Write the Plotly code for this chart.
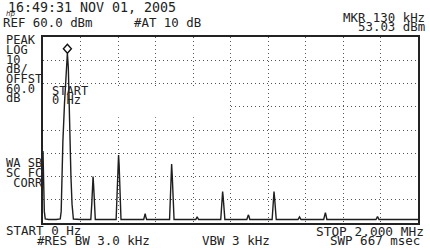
import plotly.graph_objects as go

start_khz = 0
stop_khz = 2000
ref_level_dbm = 60.0
db_per_div = 10
n_hdiv = 10
n_vdiv = 8

marker_freq_khz = 130
marker_level_dbm = 53.03

trace_freq_khz = [0, 4, 7, 12, 30, 70, 92, 97, 101, 106, 115, 123, 130, 135, 139, 143, 149, 155, 162,
                  200, 255, 260, 264, 267, 270, 274, 279,
                  390, 395, 400, 403, 406, 410, 416,
                  537, 542, 545, 548, 553,
                  675, 680, 684, 686, 689, 693, 699,
                  815, 820, 822, 825, 830,
                  948, 953, 956, 958, 961, 965, 970,
                  1087, 1092, 1095, 1098, 1103,
                  1222, 1227, 1230, 1232, 1235, 1239, 1244,
                  1360, 1365, 1368, 1371, 1376,
                  1497, 1502, 1506, 1509, 1514,
                  1776, 1781, 1784, 1787, 1792, 2000]
trace_level_dbm = [11, -6, -15, -18.2, -18.5, -18.5, -18.2, -15, 0, 15, 32, 47, 53.03, 47, 32, 15, 0, -12, -18.3,
                   -18.5, -18.5, -12, -3, 0, -4, -14, -18.5,
                   -18.5, -10, 4, 9.2, 5, -8, -18.5,
                   -18.5, -17, -16, -17.2, -18.5,
                   -18.5, -8, 2, 5.4, 1, -10, -18.5,
                   -18.5, -17.6, -17.3, -17.8, -18.5,
                   -18.5, -12, -8, -6.5, -9, -15, -18.5,
                   -18.5, -17, -16.5, -17, -18.5,
                   -18.5, -12, -8, -6.5, -9, -15, -18.5,
                   -18.5, -17.7, -17.4, -17.8, -18.5,
                   -18.5, -16.5, -15.5, -16.5, -18.5,
                   -18.5, -17.6, -17.2, -17.7, -18.5, -18.5]

header_date = "16:49:31 NOV 01, 2005"
side_labels_top = ["PEAK", "LOG", "10", "dB/", "OFFST", "60.0", "dB"]
side_labels_top_y = [39.5, 50, 59.5, 68.5, 78.5, 88.5, 98]
side_labels_bottom = ["WA SB", "SC FC", "\u00a0CORR"]
side_labels_bottom_y = [163, 173, 183]

# ---- layout geometry (pixels) ----
W, H = 430, 250
ML, MR, MT, MB = 43, 10, 37, 27
PW, PH = W - ML - MR, H - MT - MB

def px(x):
    return (x - ML) / PW

def py(y):
    return (MT + PH - y) / PH

FONT = "DejaVu Sans Mono"
TXT = "#222222"
FS = 12

fig = go.Figure()
fig.add_trace(go.Scatter(x=trace_freq_khz, y=trace_level_dbm, mode="lines",
                         line=dict(color="#1e1e1e", width=1.4), hoverinfo="skip"))

bottom = ref_level_dbm - n_vdiv * db_per_div
span = stop_khz - start_khz

# marker diamond
fig.add_shape(type="path", xref="x", yref="y", xsizemode="pixel", ysizemode="pixel",
              xanchor=marker_freq_khz, yanchor=marker_level_dbm,
              path="M0,0 L4,4.5 L0,9 L-4,4.5 Z", line=dict(color="#111", width=1.4),
              fillcolor="white", layer="above")

# blanked grid area behind the START annotation
fig.add_shape(type="rect", xref="x", yref="y", x0=start_khz, x1=start_khz + span * 0.495,
              y0=25.5, y1=38.5, line_width=0, fillcolor="white", layer="between")

ann = []
def t(text, x, y, anchor="left", size=FS):
    ann.append(dict(text=text, x=px(x), y=py(y), xref="paper", yref="paper",
                    xanchor=anchor, yanchor="middle", showarrow=False,
                    font=dict(family=FONT, size=size, color=TXT)))

t(header_date, 6, 7.5, size=13.3)
t("REF 60.0 dBm", 1, 22.5, size=12.4)
t("#AT 10 dB", 132, 22.5, size=12.4)
t("MKR 130 kHz", 429, 17.5, "right", size=12.4)
t("53.03 dBm", 429, 26.5, "right", size=12.4)
for s, yy in zip(side_labels_top, side_labels_top_y):
    t(s, 4, yy)
for s, yy in zip(side_labels_bottom, side_labels_bottom_y):
    t(s, 4, yy)
t("START", 50, 90.5)
t("0 Hz", 50, 100)
t("START 0 Hz", 4, 230.5, size=12.5)
t("#RES BW 3.0 kHz", 35, 240.5, size=12.5)
t("VBW 3 kHz", 201, 240.5, size=12.5)
t("STOP 2.000 MHz", 428, 231, "right", size=12.8)
t("SWP 667 msec", 424, 241, "right", size=12.5)
ann.append(dict(text="<i>hp</i>", x=px(4), y=py(14), xref="paper", yref="paper",
                xanchor="left", yanchor="middle", showarrow=False,
                font=dict(family="DejaVu Sans", size=7, color="#333")))

axis_common = dict(showticklabels=False, ticks="", zeroline=False,
                   showline=True, mirror=True, linecolor="#222", linewidth=1.5,
                   showgrid=True, gridcolor="#555", gridwidth=1, griddash="1px,3px",
                   fixedrange=True)

fig.update_layout(
    width=W, height=H, margin=dict(l=ML, r=MR, t=MT, b=MB),
    paper_bgcolor="white", plot_bgcolor="white", showlegend=False,
    xaxis=dict(range=[start_khz, stop_khz], tick0=start_khz, dtick=span / n_hdiv, **axis_common),
    yaxis=dict(range=[bottom, ref_level_dbm], tick0=bottom, dtick=db_per_div, **axis_common),
    annotations=ann,
)

fig.write_html("out.html", config={"displayModeBar": False})
